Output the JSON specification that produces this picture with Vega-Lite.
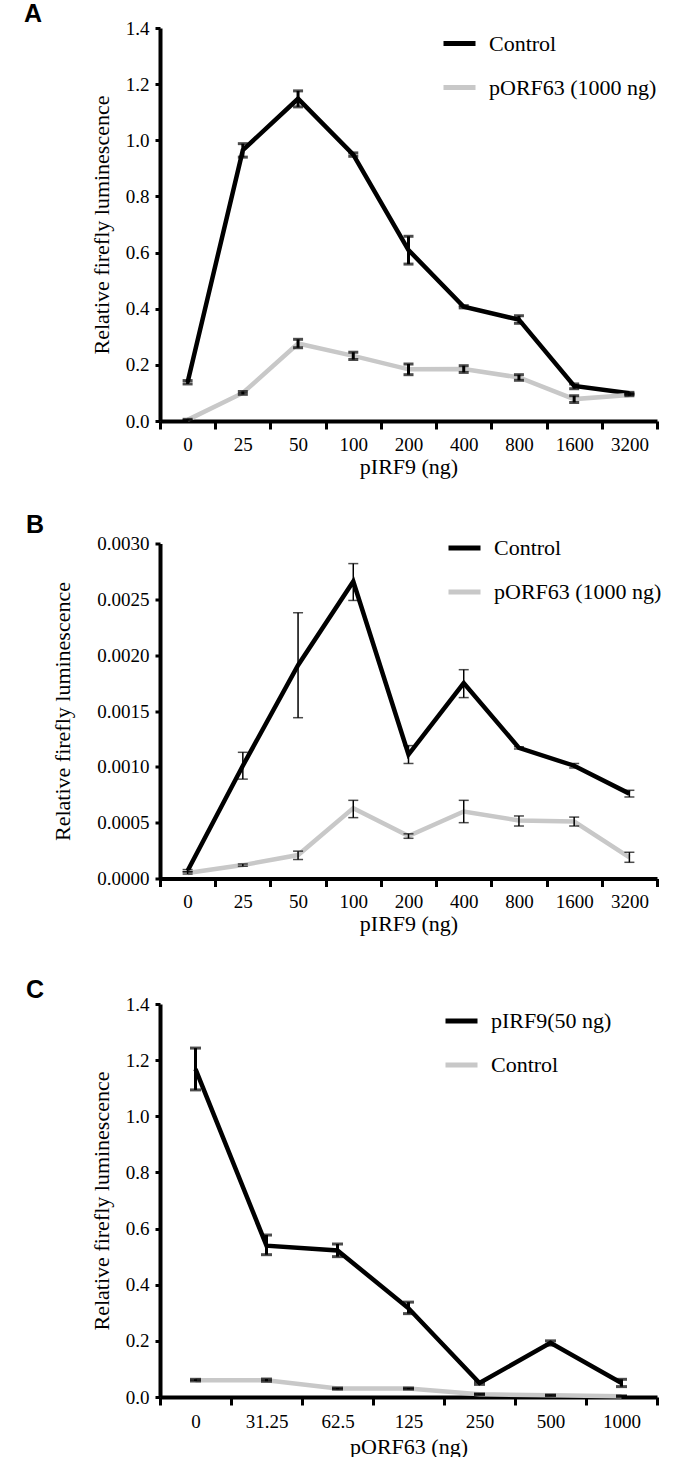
{
  "$schema": "https://vega.github.io/schema/vega-lite/v6.json",
  "background": "white",
  "padding": {"left": 24, "top": 2, "right": 0, "bottom": 0},
  "spacing": 35.5,
  "resolve": {"scale": {"color": "independent", "x": "independent", "y": "independent"}},
  "datasets": {
    "a": [
      {"i": 0, "dose": "0", "s": "Control", "y": 0.138, "lo": 0.132, "hi": 0.144},
      {"i": 1, "dose": "25", "s": "Control", "y": 0.965, "lo": 0.94, "hi": 0.988},
      {"i": 2, "dose": "50", "s": "Control", "y": 1.148, "lo": 1.119, "hi": 1.176},
      {"i": 3, "dose": "100", "s": "Control", "y": 0.949, "lo": 0.943, "hi": 0.955},
      {"i": 4, "dose": "200", "s": "Control", "y": 0.609, "lo": 0.559, "hi": 0.658},
      {"i": 5, "dose": "400", "s": "Control", "y": 0.407, "lo": 0.403, "hi": 0.411},
      {"i": 6, "dose": "800", "s": "Control", "y": 0.361, "lo": 0.348, "hi": 0.375},
      {"i": 7, "dose": "1600", "s": "Control", "y": 0.125, "lo": 0.115, "hi": 0.132},
      {"i": 8, "dose": "3200", "s": "Control", "y": 0.099, "lo": 0.096, "hi": 0.102},
      {"i": 0, "dose": "0", "s": "pORF63 (1000 ng)", "y": 0.004, "lo": 0.002, "hi": 0.006},
      {"i": 1, "dose": "25", "s": "pORF63 (1000 ng)", "y": 0.1, "lo": 0.095, "hi": 0.105},
      {"i": 2, "dose": "50", "s": "pORF63 (1000 ng)", "y": 0.276, "lo": 0.261, "hi": 0.291},
      {"i": 3, "dose": "100", "s": "pORF63 (1000 ng)", "y": 0.232, "lo": 0.219, "hi": 0.245},
      {"i": 4, "dose": "200", "s": "pORF63 (1000 ng)", "y": 0.184, "lo": 0.165, "hi": 0.203},
      {"i": 5, "dose": "400", "s": "pORF63 (1000 ng)", "y": 0.185, "lo": 0.173, "hi": 0.197},
      {"i": 6, "dose": "800", "s": "pORF63 (1000 ng)", "y": 0.155, "lo": 0.145, "hi": 0.165},
      {"i": 7, "dose": "1600", "s": "pORF63 (1000 ng)", "y": 0.078, "lo": 0.066, "hi": 0.09},
      {"i": 8, "dose": "3200", "s": "pORF63 (1000 ng)", "y": 0.093, "lo": 0.09, "hi": 0.096}
    ],
    "b": [
      {"i": 0, "dose": "0", "s": "Control", "y": 0.00007, "lo": 0.00006, "hi": 0.00008},
      {"i": 1, "dose": "25", "s": "Control", "y": 0.00101, "lo": 0.00089, "hi": 0.00113},
      {"i": 2, "dose": "50", "s": "Control", "y": 0.00191, "lo": 0.00144, "hi": 0.00238},
      {"i": 3, "dose": "100", "s": "Control", "y": 0.00266, "lo": 0.00249, "hi": 0.00282},
      {"i": 4, "dose": "200", "s": "Control", "y": 0.00111, "lo": 0.00103, "hi": 0.00119},
      {"i": 5, "dose": "400", "s": "Control", "y": 0.00175, "lo": 0.00162, "hi": 0.00187},
      {"i": 6, "dose": "800", "s": "Control", "y": 0.00117, "lo": 0.00116, "hi": 0.00118},
      {"i": 7, "dose": "1600", "s": "Control", "y": 0.00101, "lo": 0.00099, "hi": 0.00103},
      {"i": 8, "dose": "3200", "s": "Control", "y": 0.00076, "lo": 0.00073, "hi": 0.00079},
      {"i": 0, "dose": "0", "s": "pORF63 (1000 ng)", "y": 0.00005, "lo": 0.00004, "hi": 0.00006},
      {"i": 1, "dose": "25", "s": "pORF63 (1000 ng)", "y": 0.00012, "lo": 0.00011, "hi": 0.00013},
      {"i": 2, "dose": "50", "s": "pORF63 (1000 ng)", "y": 0.00021, "lo": 0.00017, "hi": 0.000245},
      {"i": 3, "dose": "100", "s": "pORF63 (1000 ng)", "y": 0.00063, "lo": 0.000545, "hi": 0.0007},
      {"i": 4, "dose": "200", "s": "pORF63 (1000 ng)", "y": 0.00038, "lo": 0.00036, "hi": 0.0004},
      {"i": 5, "dose": "400", "s": "pORF63 (1000 ng)", "y": 0.0006, "lo": 0.0005, "hi": 0.0007},
      {"i": 6, "dose": "800", "s": "pORF63 (1000 ng)", "y": 0.00052, "lo": 0.00047, "hi": 0.00056},
      {"i": 7, "dose": "1600", "s": "pORF63 (1000 ng)", "y": 0.00051, "lo": 0.00047, "hi": 0.00055},
      {"i": 8, "dose": "3200", "s": "pORF63 (1000 ng)", "y": 0.00019, "lo": 0.000145, "hi": 0.000235}
    ],
    "c": [
      {"i": 0, "dose": "0", "s": "pIRF9(50 ng)", "y": 1.168, "lo": 1.094, "hi": 1.243},
      {"i": 1, "dose": "31.25", "s": "pIRF9(50 ng)", "y": 0.539, "lo": 0.507, "hi": 0.577},
      {"i": 2, "dose": "62.5", "s": "pIRF9(50 ng)", "y": 0.522, "lo": 0.5, "hi": 0.545},
      {"i": 3, "dose": "125", "s": "pIRF9(50 ng)", "y": 0.316, "lo": 0.297, "hi": 0.338},
      {"i": 4, "dose": "250", "s": "pIRF9(50 ng)", "y": 0.05, "lo": 0.045, "hi": 0.055},
      {"i": 5, "dose": "500", "s": "pIRF9(50 ng)", "y": 0.193, "lo": 0.185, "hi": 0.2},
      {"i": 6, "dose": "1000", "s": "pIRF9(50 ng)", "y": 0.05, "lo": 0.037, "hi": 0.063},
      {"i": 0, "dose": "0", "s": "Control", "y": 0.06, "lo": 0.057, "hi": 0.063},
      {"i": 1, "dose": "31.25", "s": "Control", "y": 0.06, "lo": 0.056, "hi": 0.064},
      {"i": 2, "dose": "62.5", "s": "Control", "y": 0.03, "lo": 0.028, "hi": 0.032},
      {"i": 3, "dose": "125", "s": "Control", "y": 0.03, "lo": 0.028, "hi": 0.032},
      {"i": 4, "dose": "250", "s": "Control", "y": 0.01, "lo": 0.009, "hi": 0.011},
      {"i": 5, "dose": "500", "s": "Control", "y": 0.006, "lo": 0.005, "hi": 0.007},
      {"i": 6, "dose": "1000", "s": "Control", "y": 0.003, "lo": 0.002, "hi": 0.004}
    ]
  },
  "vconcat": [
    {
      "width": 497,
      "height": 393,
      "data": {"name": "a"},
      "title": {"text": "A", "anchor": "start", "frame": "group", "dx": -136, "offset": -8, "font": "Liberation Sans", "fontWeight": "bold", "fontSize": 25, "color": "black"},
      "encoding": {
        "x": {"field": "dose", "type": "ordinal", "scale": {"type": "band", "domain": ["0", "25", "50", "100", "200", "400", "800", "1600", "3200"], "paddingInner": 0, "paddingOuter": 0}, "axis": {"title": "pIRF9 (ng)", "labelAngle": 0, "tickBand": "extent", "tickSize": 8, "labelPadding": 6, "titlePadding": 2}}
      },
      "layer": [
        {
          "mark": {"type": "line", "strokeWidth": 4.5},
          "encoding": {
            "y": {"field": "y", "type": "quantitative", "scale": {"domain": [0, 1.4], "nice": false}, "axis": {"title": "Relative firefly luminescence", "values": [0, 0.2, 0.4, 0.6, 0.8, 1.0, 1.2, 1.4], "format": ".1f", "titlePadding": 12}},
            "color": {"field": "s", "type": "nominal", "scale": {"domain": ["Control", "pORF63 (1000 ng)"], "range": ["#000000", "#c8c8c8"]}, "legend": {"legendX": 281, "legendY": -3}},
            "order": {"field": "i", "type": "quantitative"}
          }
        },
        {
          "mark": {"type": "rule", "strokeWidth": 3, "color": "black"},
          "encoding": {"y": {"field": "lo", "type": "quantitative"}, "y2": {"field": "hi"}}
        },
        {
          "mark": {"type": "tick", "orient": "horizontal", "size": 10, "thickness": 3, "color": "black"},
          "encoding": {"y": {"field": "lo", "type": "quantitative"}}
        },
        {
          "mark": {"type": "tick", "orient": "horizontal", "size": 10, "thickness": 3, "color": "black"},
          "encoding": {"y": {"field": "hi", "type": "quantitative"}}
        }
      ]
    },
    {
      "width": 497,
      "height": 335,
      "data": {"name": "b"},
      "title": {"text": "B", "anchor": "start", "frame": "group", "dx": -134, "offset": -8, "font": "Liberation Sans", "fontWeight": "bold", "fontSize": 25, "color": "black"},
      "encoding": {
        "x": {"field": "dose", "type": "ordinal", "scale": {"type": "band", "domain": ["0", "25", "50", "100", "200", "400", "800", "1600", "3200"], "paddingInner": 0, "paddingOuter": 0}, "axis": {"title": "pIRF9 (ng)", "labelAngle": 0, "tickBand": "extent", "tickSize": 8, "labelPadding": 6, "titlePadding": 2}}
      },
      "layer": [
        {
          "mark": {"type": "line", "strokeWidth": 4.5},
          "encoding": {
            "y": {"field": "y", "type": "quantitative", "scale": {"domain": [0, 0.003], "nice": false}, "axis": {"title": "Relative firefly luminescence", "values": [0, 0.0005, 0.001, 0.0015, 0.002, 0.0025, 0.003], "format": ".4f", "titlePadding": 22}},
            "color": {"field": "s", "type": "nominal", "scale": {"domain": ["Control", "pORF63 (1000 ng)"], "range": ["#000000", "#c8c8c8"]}, "legend": {"legendX": 286, "legendY": -14}},
            "order": {"field": "i", "type": "quantitative"}
          }
        },
        {
          "mark": {"type": "rule", "strokeWidth": 1.5, "color": "black"},
          "encoding": {"y": {"field": "lo", "type": "quantitative"}, "y2": {"field": "hi"}}
        },
        {
          "mark": {"type": "tick", "orient": "horizontal", "size": 10, "thickness": 1.5, "color": "black"},
          "encoding": {"y": {"field": "lo", "type": "quantitative"}}
        },
        {
          "mark": {"type": "tick", "orient": "horizontal", "size": 10, "thickness": 1.5, "color": "black"},
          "encoding": {"y": {"field": "hi", "type": "quantitative"}}
        }
      ]
    },
    {
      "width": 497,
      "height": 393,
      "data": {"name": "c"},
      "title": {"text": ["", "C"], "lineHeight": 7.5, "anchor": "start", "frame": "group", "dx": -134, "offset": -8, "font": "Liberation Sans", "fontWeight": "bold", "fontSize": 25, "color": "black"},
      "encoding": {
        "x": {"field": "dose", "type": "ordinal", "scale": {"type": "band", "domain": ["0", "31.25", "62.5", "125", "250", "500", "1000"], "paddingInner": 0, "paddingOuter": 0}, "axis": {"title": "pORF63 (ng)", "labelAngle": 0, "tickBand": "extent", "tickSize": 8, "labelPadding": 7, "titlePadding": 5}}
      },
      "layer": [
        {
          "mark": {"type": "line", "strokeWidth": 4.5},
          "encoding": {
            "y": {"field": "y", "type": "quantitative", "scale": {"domain": [0, 1.4], "nice": false}, "axis": {"title": "Relative firefly luminescence", "values": [0, 0.2, 0.4, 0.6, 0.8, 1.0, 1.2, 1.4], "format": ".1f", "titlePadding": 12}},
            "color": {"field": "s", "type": "nominal", "scale": {"domain": ["pIRF9(50 ng)", "Control"], "range": ["#000000", "#c8c8c8"]}, "legend": {"legendX": 283, "legendY": -1.5}},
            "order": {"field": "i", "type": "quantitative"}
          }
        },
        {
          "mark": {"type": "rule", "strokeWidth": 3, "color": "black"},
          "encoding": {"y": {"field": "lo", "type": "quantitative"}, "y2": {"field": "hi"}}
        },
        {
          "mark": {"type": "tick", "orient": "horizontal", "size": 11, "thickness": 3, "color": "black"},
          "encoding": {"y": {"field": "lo", "type": "quantitative"}}
        },
        {
          "mark": {"type": "tick", "orient": "horizontal", "size": 11, "thickness": 3, "color": "black"},
          "encoding": {"y": {"field": "hi", "type": "quantitative"}}
        }
      ]
    }
  ],
  "config": {
    "view": {"stroke": null},
    "axis": {"grid": false, "domainColor": "black", "domainWidth": 4, "tickColor": "black", "tickWidth": 3, "labelFont": "Liberation Serif", "labelFontSize": 19, "labelColor": "black", "titleFont": "Liberation Serif", "titleFontSize": 22, "titleFontWeight": "normal", "titleColor": "black"},
    "axisY": {"tickSize": 5, "labelPadding": 6},
    "legend": {"orient": "none", "title": null, "symbolType": "stroke", "symbolSize": 1024, "symbolStrokeWidth": 5, "labelFont": "Liberation Serif", "labelFontSize": 22, "labelColor": "black", "labelOffset": 11, "labelLimit": 400, "rowPadding": 14, "padding": 0}
  }
}
